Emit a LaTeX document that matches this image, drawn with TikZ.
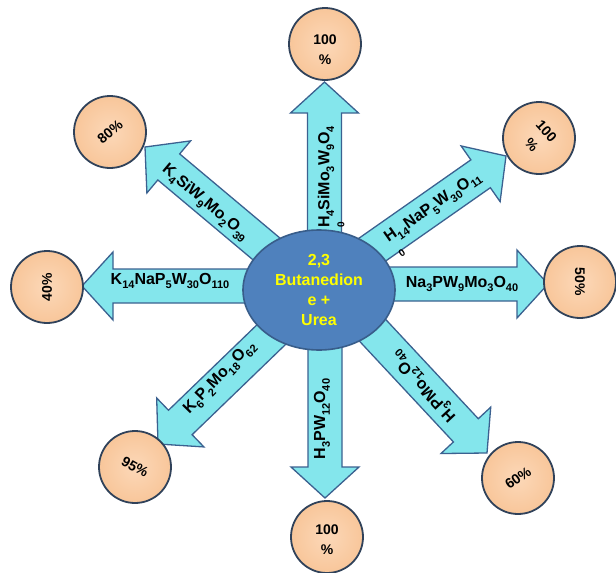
\documentclass[tikz,border=0pt]{standalone}
\usepackage{fontspec}
\setmainfont{Liberation Sans}
\usetikzlibrary{shapes.geometric}
\definecolor{arrowfill}{RGB}{132,230,236}
\definecolor{arrowline}{RGB}{59,97,144}
\definecolor{hubfill}{RGB}{79,129,189}
\definecolor{hubline}{RGB}{56,93,138}
\definecolor{pctin}{RGB}{252,216,184}
\definecolor{pctout}{RGB}{248,198,154}
\definecolor{pctline}{RGB}{48,66,90}
\definecolor{hubtext}{RGB}{255,255,0}
\newcommand\sbs[1]{\raisebox{-0.3em}{\fontsize{11}{11}\selectfont #1}}
\newcommand\blockarr[3]{%
  \begin{scope}[shift={(#1)},rotate=#2]
    \draw[arrowbody] (0,0) -- (-31,-34) -- (-31,-17) -- (-#3,-17) -- (-#3,17) -- (-31,17) -- (-31,34) -- cycle;
  \end{scope}}
\begin{document}
\begin{tikzpicture}[x=1pt,y=-1pt,
  arrowbody/.style={fill=arrowfill,draw=arrowline,line width=1.3pt,line join=miter},
  lbl/.style={font=\fontsize{16}{19}\selectfont\bfseries,inner sep=0},
  stray/.style={font=\fontsize{10}{10}\selectfont\bfseries,inner sep=0},
  pct/.style={circle,minimum size=72pt,inner sep=0,draw=pctline,line width=1.8pt,inner color=pctin,outer color=pctout},
  pcttext/.style={font=\fontsize{14}{20}\selectfont\bfseries,align=center,inner sep=0},
  hub/.style={ellipse,minimum width=152pt,minimum height=120pt,inner sep=0,fill=hubfill,draw=hubline,line width=1.6pt,
    text=hubtext,align=center,font=\fontsize{16}{20}\selectfont\bfseries}
  ]
\useasboundingbox (0,0) rectangle (616,573);
% arrow tips
\coordinate (tipU)  at (324.5,82);
\coordinate (tipUR) at (506,156);
\coordinate (tipR)  at (548,284);
\coordinate (tipDR) at (487,453);
\coordinate (tipD)  at (325,498);
\coordinate (tipDL) at (158,444);
\coordinate (tipL)  at (82,286);
\coordinate (tipUL) at (145,147);
% block arrows
\blockarr{tipU}{90}{205}
\blockarr{tipUR}{35}{230}
\blockarr{tipR}{0}{240}
\blockarr{tipDR}{-47}{200}
\blockarr{tipD}{-90}{210}
\blockarr{tipDL}{-136}{210}
\blockarr{tipL}{180}{230}
\blockarr{tipUL}{140}{210}
% arrow labels
\node[lbl,rotate=90]  (lU)  at (326,177) {H\sbs{4}SiMo\sbs{3}W\sbs{9}O\sbs{4}};
\node[stray,rotate=90] (lU0) at (341,225) {0};
\node[lbl,rotate=35]  (lUR) at (433,208) {H\sbs{14}NaP\sbs{5}W\sbs{30}O\sbs{11}};
\node[stray,rotate=35] (lUR0) at (402,253) {0};
\node[lbl]            (lR)  at (462,284) {Na\sbs{3}PW\sbs{9}Mo\sbs{3}O\sbs{40}};
\node[lbl,rotate=133] (lDR) at (424,386) {H\sbs{3}PMo\sbs{12}O\sbs{40}};
\node[lbl,rotate=90]  (lD)  at (322,419) {H\sbs{3}PW\sbs{12}O\sbs{40}};
\node[lbl,rotate=46]  (lDL) at (220,378) {K\sbs{6}P\sbs{2}Mo\sbs{18}O\sbs{62}};
\node[lbl]            (lL)  at (170,281) {K\sbs{14}NaP\sbs{5}W\sbs{30}O\sbs{110}};
\node[lbl,rotate=-40] (lUL) at (205,203) {K\sbs{4}SiW\sbs{9}Mo\sbs{2}O\sbs{39}};
% hub
\node[hub] (hub) at (319,290) {2,3\\Butanedion\\e +\\Urea};
% result circles
\node[pct] (pU)  at (325,44)  {};
\node[pct] (pUR) at (539,138) {};
\node[pct] (pR)  at (580,282) {};
\node[pct] (pDR) at (518,478) {};
\node[pct] (pD)  at (327,537) {};
\node[pct] (pDL) at (135,467) {};
\node[pct] (pL)  at (47,287)  {};
\node[pct] (pUL) at (110,132) {};
\node[pcttext] (tU) at ([yshift=-6pt]pU.center) {100\\\%};
\node[pcttext,rotate=-48] (tUR) at (pUR.center) {100\\\%};
\node[pcttext,rotate=-90] (tR) at (pR.center) {50\%};
\node[pcttext,rotate=35] (tDR) at (pDR.center) {60\%};
\node[pcttext] (tD) at ([yshift=-3pt]pD.center) {100\\\%};
\node[pcttext,rotate=-29] (tDL) at (pDL.center) {95\%};
\node[pcttext,rotate=90] (tL) at (pL.center) {40\%};
\node[pcttext,rotate=40] (tUL) at (pUL.center) {80\%};
\end{tikzpicture}
\end{document}
